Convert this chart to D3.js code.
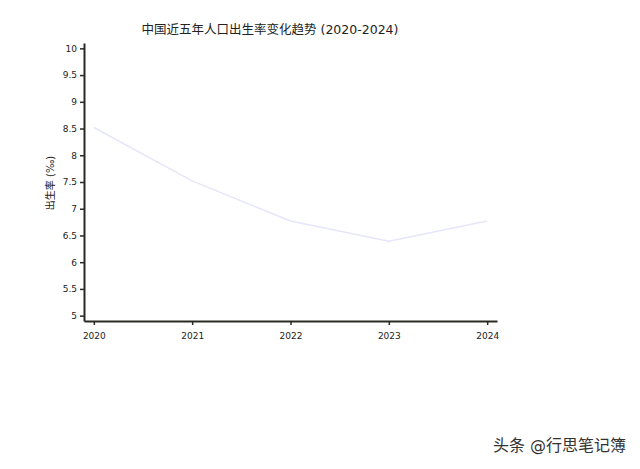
<!DOCTYPE html>
<html>
<head>
<meta charset="utf-8">
<script src="https://cdn.jsdelivr.net/npm/d3@7"></script>
<style>
  body { margin: 0; background: #fff; }
  text { font-family: "DejaVu Sans", "Noto Sans CJK SC", sans-serif; }
</style>
</head>
<body>
<svg width="640" height="469"></svg>
<script>
// data
var years = ["2020", "2021", "2022", "2023", "2024"];
var birthRate = [8.52, 7.52, 6.77, 6.39, 6.77];
var yTicks = [5, 5.5, 6, 6.5, 7, 7.5, 8, 8.5, 9, 9.5, 10];

var svg = d3.select("svg");
var plotLeft = 84, plotRight = 497, plotTop = 43, plotBottom = 321;

var x = d3.scalePoint()
    .domain(years)
    .range([plotLeft, plotRight])
    .padding(0.1);

var y = d3.scaleLinear()
    .domain([4.9, 10.1])
    .range([plotBottom, plotTop]);

// line
var line = d3.line()
    .x(function(d, i) { return x(years[i]); })
    .y(function(d) { return y(d); });

svg.append("path")
    .datum(birthRate)
    .attr("fill", "none")
    .attr("stroke", "#e6e6fa")
    .attr("stroke-width", 1.5)
    .attr("d", line);

// axes
var xAxis = svg.append("g")
    .attr("transform", "translate(0," + plotBottom + ")")
    .call(d3.axisBottom(x).tickSize(4).tickSizeOuter(0));

var yAxis = svg.append("g")
    .attr("transform", "translate(" + plotLeft + ",0)")
    .call(d3.axisLeft(y).tickValues(yTicks).tickSize(4).tickSizeOuter(0)
        .tickFormat(d3.format("")));

[xAxis, yAxis].forEach(function(g) {
    g.select(".domain").attr("stroke", "#2a2a22").attr("stroke-width", 2);
    g.selectAll(".tick line").attr("stroke", "#2a2a22").attr("stroke-width", 1.5);
    g.selectAll(".tick text").attr("fill", "#222").style("font-size", "9px");
});
xAxis.selectAll(".tick text").attr("dy", "1.2em");

// title
svg.append("text")
    .attr("x", 270)
    .attr("y", 34)
    .attr("text-anchor", "middle")
    .style("font-size", "12.5px")
    .attr("fill", "#222")
    .text("中国近五年人口出生率变化趋势 (2020-2024)");

// y label
svg.append("text")
    .attr("transform", "translate(54,183) rotate(-90)")
    .attr("text-anchor", "middle")
    .style("font-size", "10px")
    .attr("fill", "#222")
    .text("出生率 (‰)");

// watermark
svg.append("text")
    .attr("x", 626)
    .attr("y", 451)
    .attr("text-anchor", "end")
    .style("font-size", "16px")
    .attr("fill", "#333")
    .text("头条 @行思笔记簿");
</script>
</body>
</html>
